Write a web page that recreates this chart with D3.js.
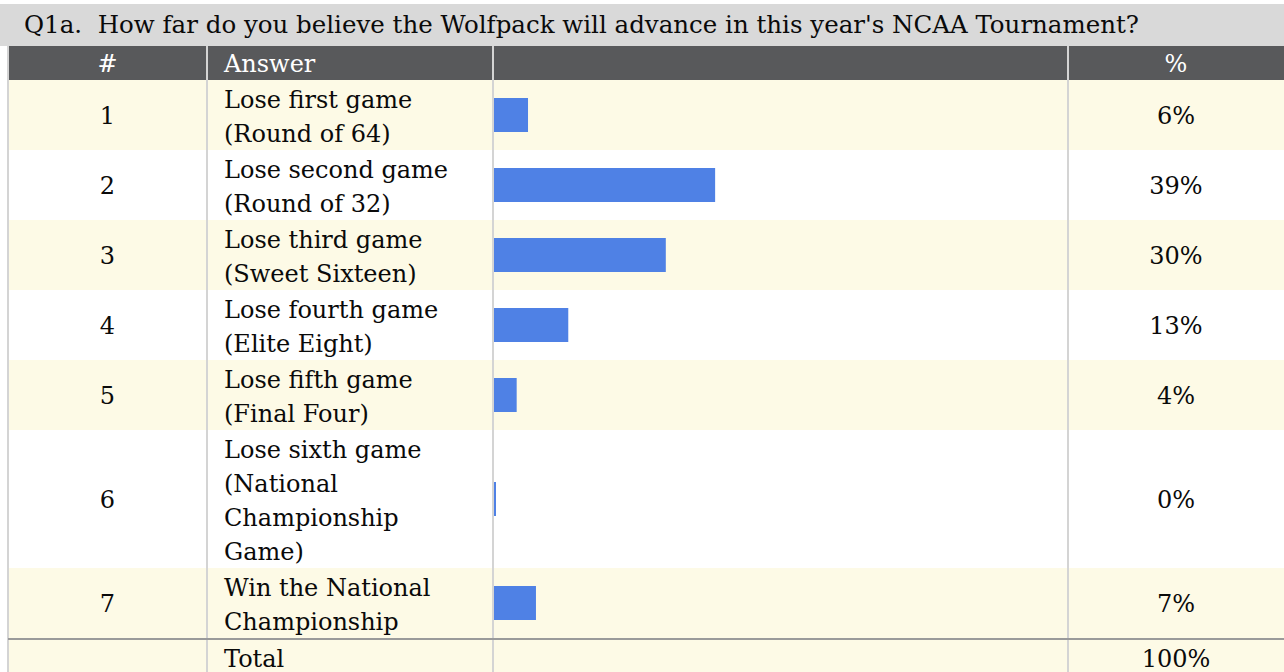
<!DOCTYPE html>
<html>
<head>
<meta charset="utf-8">
<script src="https://cdn.jsdelivr.net/npm/d3@7"></script>
<style>
  body { margin: 0; background: #fff; }
  svg text { font-family: "DejaVu Serif", serif; font-size: 24px; white-space: pre; }
</style>
</head>
<body>
<svg id="table" width="1284" height="672"></svg>
<script>
(function() {
    // survey question + answers
    const title = "Q1a.  How far do you believe the Wolfpack will advance in this year's NCAA Tournament?";
    const ranks = [1, 2, 3, 4, 5, 6, 7];
    const answers = [
        "Lose first game\n(Round of 64)",
        "Lose second game\n(Round of 32)",
        "Lose third game\n(Sweet Sixteen)",
        "Lose fourth game\n(Elite Eight)",
        "Lose fifth game\n(Final Four)",
        "Lose sixth game\n(National\nChampionship\nGame)",
        "Win the National\nChampionship"
    ];
    const percents = [6.0, 39.0, 30.3, 13.1, 4.0, 0.3, 7.4];
    const totalLabel = "Total";
    const totalPct = "100%";

    const svg = d3.select("#table");
    const width = +svg.attr("width");

    const lineH = 34;
    const cols = { left: 8, num: 207, answer: 493, pct: 1068, right: width };
    const headerTop = 46, headerBottom = 80;

    // row layout from the number of text lines
    let y0 = headerBottom;
    const rows = answers.map((a, i) => {
        const lines = a.split("\n");
        const h = Math.max(2, lines.length) * lineH + 2;
        const r = { rank: ranks[i], lines: lines, pct: percents[i], y: y0, h: h, i: i };
        y0 += h;
        return r;
    });
    const totalY = y0 + 2;

    const x = d3.scaleLinear().domain([0, 100]).range([0, 567]);

    // title bar
    svg.append("rect").attr("x", 0).attr("y", 4).attr("width", width).attr("height", headerTop - 4)
        .attr("fill", "#d9d9d9");
    svg.append("text").attr("x", 24).attr("y", 33).attr("fill", "#0a0a0a")
        .style("font-size", "24.5px").text(title);

    // header
    svg.append("rect").attr("x", cols.left).attr("y", headerTop).attr("width", width - cols.left)
        .attr("height", headerBottom - headerTop).attr("fill", "#58595b");
    const head = svg.append("g").attr("fill", "#fff");
    head.append("text").attr("x", (cols.left + cols.num) / 2).attr("y", 72).attr("text-anchor", "middle").text("#");
    head.append("text").attr("x", 224).attr("y", 72).text("Answer");
    head.append("text").attr("x", (cols.pct + cols.right) / 2).attr("y", 72).attr("text-anchor", "middle").text("%");

    // body rows
    const g = svg.append("g")
        .selectAll("g")
        .data(rows)
        .join("g")
        .attr("transform", d => `translate(0,${d.y})`);

    g.append("rect")
        .attr("x", cols.left).attr("width", width - cols.left)
        .attr("height", d => d.h)
        .attr("fill", d => d.i % 2 === 0 ? "#fdfae6" : "#ffffff");

    g.append("text")
        .attr("x", (cols.left + cols.num) / 2)
        .attr("y", d => d.h / 2 + 9)
        .attr("text-anchor", "middle")
        .attr("fill", "#0a0a0a")
        .text(d => d.rank);

    g.append("text")
        .attr("fill", "#0a0a0a")
        .selectAll("tspan")
        .data(d => d.lines)
        .join("tspan")
        .attr("x", 224)
        .attr("y", (d, j) => 28 + j * lineH)
        .text(d => d);

    g.append("rect")
        .attr("x", cols.answer + 1)
        .attr("y", d => d.h / 2 - 17)
        .attr("width", d => Math.max(2, x(d.pct)))
        .attr("height", 34)
        .attr("fill", "#4f81e5");

    g.append("text")
        .attr("x", (cols.pct + cols.right) / 2)
        .attr("y", d => d.h / 2 + 9)
        .attr("text-anchor", "middle")
        .attr("fill", "#0a0a0a")
        .text(d => Math.round(d.pct) + "%");

    // total row
    svg.append("rect").attr("x", cols.left).attr("y", totalY).attr("width", width - cols.left)
        .attr("height", 672 - totalY).attr("fill", "#fdfae6");
    svg.append("text").attr("x", 224).attr("y", totalY + 27).attr("fill", "#0a0a0a").text(totalLabel);
    svg.append("text").attr("x", (cols.pct + cols.right) / 2).attr("y", totalY + 27)
        .attr("text-anchor", "middle").attr("fill", "#0a0a0a").text(totalPct);

    // grid lines
    svg.append("g")
        .selectAll("line")
        .data([cols.left, cols.num, cols.answer, cols.pct])
        .join("line")
        .attr("x1", d => d).attr("x2", d => d)
        .attr("y1", headerTop).attr("y2", 672)
        .attr("stroke", "#d4d4d4").attr("stroke-width", 2);

    svg.append("line")
        .attr("x1", cols.left).attr("x2", width)
        .attr("y1", totalY - 1).attr("y2", totalY - 1)
        .attr("stroke", "#9a9a9a").attr("stroke-width", 2);
})();
</script>
</body>
</html>
